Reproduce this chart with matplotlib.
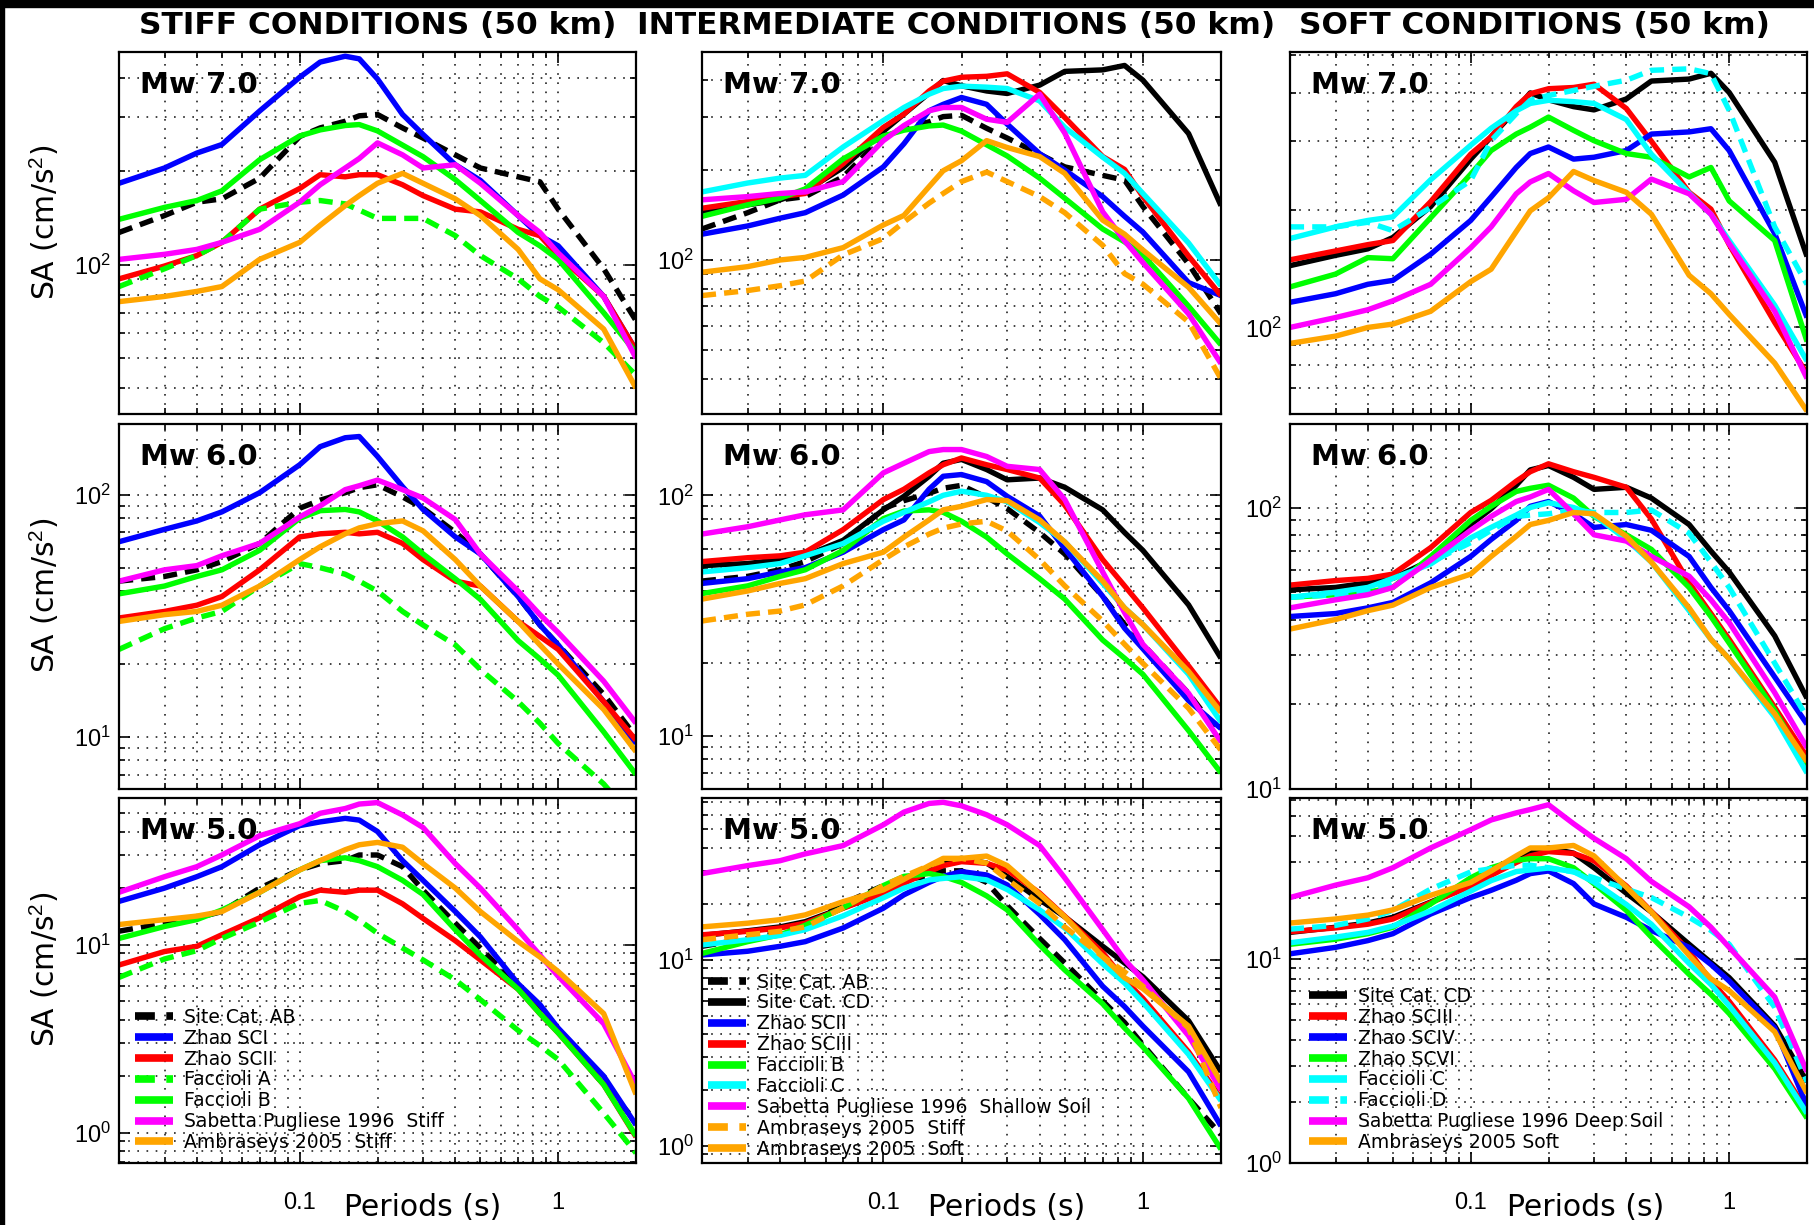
import matplotlib
matplotlib.use('Agg')
import matplotlib.pyplot as plt
from matplotlib.ticker import LogLocator, NullFormatter, FixedLocator, FixedFormatter, LogFormatterSciNotation
from matplotlib.patches import Rectangle

plt.rcParams['font.family'] = ['DejaVu Sans']
plt.rcParams['mathtext.fontset'] = 'custom'
plt.rcParams['mathtext.rm'] = 'Liberation Sans'
plt.rcParams['mathtext.it'] = 'Liberation Sans:italic'
plt.rcParams['mathtext.bf'] = 'Liberation Sans:bold'

# ---------------- data (SA in cm/s^2) ----------------
periods = [0.02, 0.03, 0.04, 0.05, 0.07, 0.1, 0.12, 0.15, 0.17, 0.2, 0.25, 0.3,
           0.4, 0.5, 0.7, 0.85, 1.0, 1.5, 2.0]

# Mw 7.0
ab_7 = [127, 144, 159, 163, 190, 259, 276, 290, 302, 305, 276, 256, 226, 205, 192, 185, 151, 97, 66]
cd_7 = [144, 153, 159, 170, 204, 270, 308, 362, 399, 383, 368, 361, 385, 428, 433, 448, 400, 265, 152]
zsci_7 = [183, 205, 229, 244, 313, 402, 450, 470, 461, 397, 305, 263, 210, 187, 144, 124, 115, 79, 53]
zscii_stiff_7 = [90, 99, 107, 118, 151, 176, 195, 192, 195, 195, 181, 167, 151, 148, 130, 124, 107, 79, 53]
zscii_int_7 = [122, 130, 138, 144, 165, 205, 245, 316, 332, 350, 332, 285, 227, 200, 163, 140, 124, 84, 76]
zsciii_7 = [149, 157, 163, 167, 210, 278, 308, 368, 397, 409, 412, 420, 364, 300, 222, 201, 163, 103, 76]
zsciv_7 = [116, 122, 129, 132, 154, 188, 216, 257, 279, 290, 270, 273, 284, 313, 317, 323, 284, 174, 106]
zscvi_7 = [127, 137, 151, 150, 191, 247, 284, 313, 326, 346, 320, 301, 279, 273, 243, 257, 211, 167, 92]
faca_7 = [85, 97, 107, 118, 151, 159, 161, 157, 150, 141, 141, 141, 124, 107, 90, 79, 73, 56, 44]
facb_7 = [140, 153, 161, 173, 218, 260, 272, 281, 283, 270, 243, 223, 188, 161, 127, 115, 104, 70, 52]
facc_7 = [169, 181, 188, 192, 239, 293, 324, 359, 375, 382, 379, 375, 341, 278, 221, 195, 167, 114, 82]
facd_7 = [181, 181, 186, 177, 203, 238, 301, 353, 382, 393, 405, 415, 430, 456, 460, 447, 360, 181, 129]
sp_stiff_7 = [104, 108, 112, 118, 130, 159, 181, 205, 220, 247, 226, 205, 210, 183, 144, 127, 109, 79, 50]
sp_shallow_7 = [159, 163, 167, 169, 183, 251, 282, 316, 324, 324, 296, 289, 359, 266, 145, 116, 98, 66, 45]
sp_deep_7 = [100, 106, 111, 117, 129, 160, 181, 220, 236, 248, 224, 209, 213, 240, 220, 195, 164, 110, 74]
amb_stiff_7 = [76, 79, 82, 85, 104, 118, 134, 155, 167, 183, 197, 183, 163, 144, 112, 90, 83, 62, 40]
amb_soft_7 = [91, 95, 100, 102, 110, 131, 141, 176, 199, 215, 251, 238, 222, 195, 136, 122, 108, 81, 61]

# Mw 6.0
ab_6 = [44, 46, 49, 53, 63, 88, 95, 102, 107, 110, 98, 88, 70, 57, 38, 29, 24, 15, 10]
cd_6 = [51, 52, 54, 56, 65, 87, 99, 120, 136, 141, 128, 116, 118, 108, 87, 70, 59, 35, 21]
zsci_6 = [64, 72, 78, 85, 102, 133, 158, 172, 174, 144, 108, 87, 67, 57, 38, 29, 24, 14, 9.4]
zscii_stiff_6 = [31, 33, 35, 38, 49, 67, 69, 70, 69, 70, 63, 54, 44, 42, 30, 26, 23, 14, 9.7]
zscii_int_6 = [43, 45, 48, 50, 58, 72, 79, 106, 120, 122, 114, 99, 82, 60, 38, 28, 23, 14, 10.7]
zsciii_6 = [53, 55, 56, 58, 72, 96, 106, 124, 134, 143, 134, 128, 118, 91, 54, 42, 34, 19.5, 13]
zsciv_6 = [41, 42, 44, 46, 54, 67, 77, 90, 101, 105, 95, 85, 87, 83, 67, 52, 43, 25, 17]
zscvi_6 = [48, 49, 50, 52, 67, 90, 101, 114, 117, 120, 108, 93, 80, 71, 52, 41, 33, 19, 12]
faca_6 = [23, 28, 31, 33, 42, 52, 50, 47, 44, 40, 33, 29, 24, 19, 14, 11.4, 9.4, 6.4, 4.5]
facb_6 = [39, 42, 46, 49, 59, 80, 86, 87, 85, 78, 67, 57, 45, 37, 25, 21, 18, 10.5, 7]
facc_6 = [48, 50, 52, 56, 63, 78, 85, 94, 100, 104, 100, 94, 77, 64, 43, 34, 29, 18, 11.4]
facd_6 = [48, 49, 51, 54, 64, 75, 83, 93, 94, 95, 98, 96, 96, 98, 81, 64, 52, 28, 18]
sp_stiff_6 = [44, 49, 51, 56, 63, 81, 90, 105, 109, 115, 105, 97, 79, 57, 40, 32, 27, 17, 11.4]
sp_shallow_6 = [69, 74, 79, 83, 87, 124, 136, 152, 155, 155, 145, 132, 128, 96, 48, 32.5, 24, 15, 9.4]
sp_deep_6 = [44, 47, 49, 52, 65, 83, 93, 105, 109, 116, 95, 80, 76, 67, 57, 47, 39, 22, 14]
amb_stiff_6 = [30, 32, 33, 35, 42, 54, 61, 69, 73, 76, 78, 71, 54, 42, 30, 24, 20, 13, 8.7]
amb_soft_6 = [37, 40, 43, 45, 52, 58, 67, 79, 87, 90, 96, 95, 79, 64, 44, 34, 29, 18.5, 12.5]

# Mw 5.0
ab_5 = [11.8, 13, 13.9, 15, 20, 25, 27, 28, 30, 30, 26, 19.5, 13, 9.6, 6, 4.6, 3.5, 1.8, 1.15]
cd_5 = [13.5, 14.3, 15, 16, 19, 23, 26, 30, 33, 35, 33, 28, 21, 17, 11.8, 9.6, 8.1, 4.7, 2.5]
zsci_5 = [17, 20, 23, 26, 34, 43, 45, 47, 46, 40, 28, 22, 15, 11, 6.2, 4.8, 3.6, 2.0, 1.1]
zscii_stiff_5 = [7.8, 9.2, 9.8, 11.3, 13.9, 18, 19.5, 19, 19.5, 19.5, 16.5, 13.8, 10.5, 8.3, 5.8, 4.3, 3.4, 1.8, 0.95]
zscii_int_5 = [10.6, 11.1, 11.8, 12.5, 14.8, 18.9, 22.3, 26, 28, 29.7, 28.5, 25.2, 17.5, 12.8, 7.2, 5.6, 4.4, 2.5, 1.28]
zsciii_5 = [13.6, 14.2, 14.8, 15.7, 18.9, 22.7, 25.7, 29.7, 32, 33.6, 32.9, 30.3, 22.8, 17.1, 10.9, 7.8, 6.2, 3.2, 1.8]
zsciv_5 = [10.6, 11.4, 12.3, 13.3, 16.6, 20, 21.7, 24.3, 26.2, 27, 23.4, 18.6, 16, 13.8, 11.4, 9.4, 7.8, 4.6, 1.9]
zscvi_5 = [11.8, 12.5, 13.3, 14.3, 18.6, 25, 28, 30.5, 31, 31, 28, 23.4, 17.3, 12.8, 8.4, 6.7, 5.4, 2.9, 1.66]
faca_5 = [6.7, 8.4, 9.3, 10.8, 13.2, 16.6, 17.2, 15, 13.5, 11.5, 9.6, 8.3, 6.5, 5.1, 3.5, 2.9, 2.45, 1.27, 0.78]
facb_5 = [10.8, 12.5, 13.6, 15.3, 19, 25, 28, 29, 28, 26, 22, 18.5, 12, 8.8, 5.8, 4.3, 3.4, 1.8, 0.96]
facc_5 = [12, 12.8, 13.5, 14.5, 17.2, 21.5, 24.2, 26.8, 27.3, 27.9, 26.8, 23.8, 18.5, 14.8, 9.5, 7.5, 5.9, 3.1, 1.75]
facd_5 = [14, 14.6, 15.7, 17.3, 22, 26.7, 27.7, 28.8, 28.8, 28, 26.7, 25, 22, 20, 16, 13.8, 11.8, 5.8, 2.5]
sp_stiff_5 = [19, 23, 26, 30, 38, 44, 50, 53, 56, 57, 49, 42, 27, 20, 12, 8.8, 6.8, 3.8, 1.8]
sp_shallow_5 = [29, 32, 34, 37, 41, 53, 62, 69, 70, 67, 60, 53, 41, 27.5, 14.5, 10, 7.8, 3.9, 2.0]
sp_deep_5 = [20, 23, 25, 28, 35, 43, 48, 52, 54, 57, 46, 39, 31, 24, 18, 14.3, 11.4, 6.5, 2.8]
amb_stiff_5 = [12.8, 13.6, 14.2, 15, 19, 25, 28, 32, 34, 35, 33, 27, 20, 15, 10.4, 8.6, 7.2, 4.3, 1.6]
amb_soft_5 = [15, 15.7, 16.4, 17.4, 20.5, 23.7, 27, 32, 35, 35, 36, 32, 22.5, 17, 10.4, 8, 7, 4.4, 2.2]

column_titles = ['STIFF CONDITIONS (50 km)', 'INTERMEDIATE CONDITIONS (50 km)', 'SOFT CONDITIONS (50 km)']
row_labels = ['Mw 7.0', 'Mw 6.0', 'Mw 5.0']
x_tick_values = [0.1, 1]
x_tick_labels = ['0.1', '1']

# ---------------- styles ----------------
BLUE, RED, GREEN, MAG, CYAN, ORANGE, BLACK = '#0000FF', '#FF0000', '#00FF00', '#FF00FF', '#00FFFF', '#FFA500', '#000000'
SOLID = '-'
DASH = (0, (2.6, 1.5))
LW = 3.9

def stiff_set(ab, zsci, zscii, fa, fb, sp, amb):
    return [(ab, BLACK, DASH, 'Site Cat. AB'), (zsci, BLUE, SOLID, 'Zhao SCI'),
            (zscii, RED, SOLID, 'Zhao SCII'), (fa, GREEN, DASH, 'Faccioli A'),
            (fb, GREEN, SOLID, 'Faccioli B'), (sp, MAG, SOLID, 'Sabetta Pugliese 1996  Stiff'),
            (amb, ORANGE, SOLID, 'Ambraseys 2005  Stiff')]

def inter_set(ab, cd, zscii, zsciii, fb, fc, sp, ambs, ambf):
    return [(ab, BLACK, DASH, 'Site Cat. AB'), (cd, BLACK, SOLID, 'Site Cat. CD'),
            (zscii, BLUE, SOLID, 'Zhao SCII'), (zsciii, RED, SOLID, 'Zhao SCIII'),
            (fb, GREEN, SOLID, 'Faccioli B'), (fc, CYAN, SOLID, 'Faccioli C'),
            (sp, MAG, SOLID, 'Sabetta Pugliese 1996  Shallow Soil'),
            (ambs, ORANGE, DASH, 'Ambraseys 2005  Stiff'), (ambf, ORANGE, SOLID, 'Ambraseys 2005  Soft')]

def soft_set(cd, zsciii, zsciv, zscvi, fc, fd, sp, ambf):
    return [(cd, BLACK, SOLID, 'Site Cat. CD'), (zsciii, RED, SOLID, 'Zhao SCIII'),
            (zsciv, BLUE, SOLID, 'Zhao SCIV'), (zscvi, GREEN, SOLID, 'Zhao SCVI'),
            (fc, CYAN, SOLID, 'Faccioli C'), (fd, CYAN, DASH, 'Faccioli D'),
            (sp, MAG, SOLID, 'Sabetta Pugliese 1996 Deep Soil'), (ambf, ORANGE, SOLID, 'Ambraseys 2005 Soft')]

curves = [
    [stiff_set(ab_7, zsci_7, zscii_stiff_7, faca_7, facb_7, sp_stiff_7, amb_stiff_7),
     inter_set(ab_7, cd_7, zscii_int_7, zsciii_7, facb_7, facc_7, sp_shallow_7, amb_stiff_7, amb_soft_7),
     soft_set(cd_7, zsciii_7, zsciv_7, zscvi_7, facc_7, facd_7, sp_deep_7, amb_soft_7)],
    [stiff_set(ab_6, zsci_6, zscii_stiff_6, faca_6, facb_6, sp_stiff_6, amb_stiff_6),
     inter_set(ab_6, cd_6, zscii_int_6, zsciii_6, facb_6, facc_6, sp_shallow_6, amb_stiff_6, amb_soft_6),
     soft_set(cd_6, zsciii_6, zsciv_6, zscvi_6, facc_6, facd_6, sp_deep_6, amb_soft_6)],
    [stiff_set(ab_5, zsci_5, zscii_stiff_5, faca_5, facb_5, sp_stiff_5, amb_stiff_5),
     inter_set(ab_5, cd_5, zscii_int_5, zsciii_5, facb_5, facc_5, sp_shallow_5, amb_stiff_5, amb_soft_5),
     soft_set(cd_5, zsciii_5, zsciv_5, zscvi_5, facc_5, facd_5, sp_deep_5, amb_soft_5)],
]

ylims = [[(33, 485), (30.5, 497), (60, 508)],
         [(6.1, 196), (6.0, 198), (10, 198)],
         [(0.69, 60.3), (0.81, 73.8), (1.0, 61.5)]]

# ---------------- layout (pixels of the 1814x1225 figure) ----------------
W, H = 1814, 1225
col_px = [(119, 517), (702, 519), (1290, 517)]
row_px = [(52, 362), (424, 365), (798, 365)]
legend_anchor = [(0.031, 0.030), (0.012, 0.012), (0.037, 0.030)]

fig = plt.figure(figsize=(W / 100, H / 100), dpi=100)
fig.patches.append(Rectangle((0, 1 - 7 / H), 1, 7 / H, transform=fig.transFigure, color='black', zorder=0))
fig.patches.append(Rectangle((0, 0), 4 / W, 1, transform=fig.transFigure, color='black', zorder=0))

for r in range(3):
    for c in range(3):
        x0, w = col_px[c]
        y0, h = row_px[r]
        ax = fig.add_axes([x0 / W, 1 - (y0 + h) / H, w / W, h / H])
        for data, color, ls, label in curves[r][c]:
            ax.plot(periods, data, color=color, linestyle=ls, linewidth=LW, label=label,
                    solid_joinstyle='round', solid_capstyle='butt')
        ax.set_xscale('log')
        ax.set_yscale('log')
        ax.set_xlim(0.02, 2.0)
        ax.set_ylim(*ylims[r][c])

        ax.xaxis.set_major_locator(FixedLocator(x_tick_values))
        ax.xaxis.set_minor_locator(LogLocator(base=10, subs=range(2, 10), numticks=100))
        ax.xaxis.set_minor_formatter(NullFormatter())
        if r == 2:
            ax.xaxis.set_major_formatter(FixedFormatter(x_tick_labels))
        else:
            ax.xaxis.set_major_formatter(NullFormatter())
        ax.yaxis.set_major_locator(LogLocator(base=10, numticks=10))
        ax.yaxis.set_major_formatter(LogFormatterSciNotation())
        ax.yaxis.set_minor_locator(LogLocator(base=10, subs=range(2, 10), numticks=100))
        ax.yaxis.set_minor_formatter(NullFormatter())

        ax.grid(True, which='both', color='#222222', linestyle=(0, (1.0, 4.5)), linewidth=1.2)
        ax.set_axisbelow(True)
        ax.tick_params(which='both', direction='in', top=True, right=True, width=1.2,
                       labelfontfamily='Liberation Sans')
        ax.tick_params(which='major', length=8, labelsize=17)
        ax.tick_params(which='minor', length=4)
        ax.tick_params(axis='x', which='major', pad=21)
        ax.tick_params(axis='y', which='major', pad=6)
        for sp in ax.spines.values():
            sp.set_linewidth(1.6)

        ax.text(0.04, 0.91, row_labels[r], transform=ax.transAxes, fontsize=21,
                fontweight='bold', ha='left', va='center')
        if c == 0:
            ax.set_ylabel('SA (cm/s$^2$)', fontsize=21.5)
            ax.yaxis.set_label_coords(-0.112, 0.53)
        if r == 2:
            leg = ax.legend(loc='lower left', bbox_to_anchor=legend_anchor[c], frameon=False,
                            fontsize=13.5, handlelength=2.0, handletextpad=0.6, labelspacing=0.1,
                            borderpad=0.0, borderaxespad=0.0)
            for line in leg.get_lines():
                line.set_linewidth(5.5)

title_x = [0.208, 0.527, 0.846]
xlabel_x = [0.233, 0.555, 0.874]
for c in range(3):
    fig.text(title_x[c], 1 - 25 / H, column_titles[c], fontsize=22.5, fontweight='bold',
             ha='center', va='center')
    fig.text(xlabel_x[c], 1 - 1208 / H, 'Periods (s)', fontsize=21.5, ha='center', va='center')

fig.savefig('out.png', dpi=100, facecolor='white')
